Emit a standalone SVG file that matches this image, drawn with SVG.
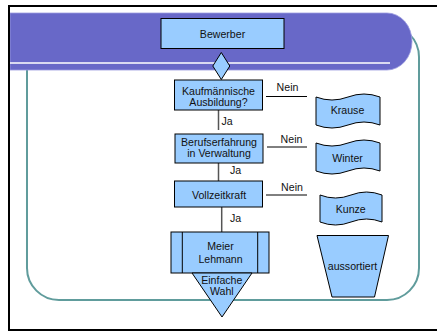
<svg xmlns="http://www.w3.org/2000/svg" width="437" height="332" viewBox="0 0 437 332">
<style>
.box{fill:#99CCFF;stroke:#000;stroke-width:1}
.t{font-family:"Liberation Sans",Arial,sans-serif;font-size:10.6px;fill:#111;text-anchor:middle}
.nein{stroke:#000;stroke-width:1;fill:none}
.vert{stroke:#555;stroke-width:1.5;fill:none}
</style>
<rect x="0" y="0" width="437" height="332" fill="#fff"/>
<g id="frame">
<rect x="27" y="25" width="392" height="275" rx="32" ry="32" fill="none" stroke="#609C9C" stroke-width="2"/>
<path d="M10,13 H387 A25,28.5 0 0 1 412,41.5 A25,28.5 0 0 1 387,70 H10 Z" fill="#6868C8" stroke="#9C9CE0" stroke-width="0.8"/>
<line x1="10" y1="63" x2="390" y2="63" stroke="#fff" stroke-width="1.5"/>
<rect x="9" y="6" width="440" height="324" fill="none" stroke="#000" stroke-width="2"/>
</g>
<g id="connectors">
<line class="vert" x1="218.5" y1="110" x2="218.5" y2="130"/>
<line class="vert" x1="218.5" y1="163" x2="218.5" y2="181"/>
<line class="vert" x1="221.7" y1="207" x2="221.7" y2="232"/>
<line class="nein" x1="266" y1="96.5" x2="307" y2="96.5"/>
<line class="nein" x1="267" y1="147" x2="307" y2="147"/>
<line class="nein" x1="266" y1="195" x2="307" y2="195"/>
<text class="t" x="287.5" y="91">Nein</text>
<text class="t" x="227" y="125">Ja</text>
<text class="t" x="291.5" y="143">Nein</text>
<text class="t" x="235.5" y="173.5">Ja</text>
<text class="t" x="292" y="190.5">Nein</text>
<text class="t" x="235.5" y="222">Ja</text>
</g>
<g id="bewerber">
<rect class="box" x="161" y="18.5" width="123" height="30"/>
<text class="t" x="222.5" y="38">Bewerber</text>
</g>
<g id="gate">
<polygon class="box" points="221.3,52.5 229.8,66 221.3,79.5 212.8,66"/>
</g>
<g id="kaufmaennisch">
<rect class="box" x="174.5" y="80" width="88" height="30"/>
<text class="t" x="218.5" y="94.5">Kaufmännische</text>
<text class="t" x="218.5" y="105.5">Ausbildung?</text>
</g>
<g id="berufserfahrung">
<rect class="box" x="175" y="134" width="88" height="29"/>
<text class="t" x="219" y="146">Berufserfahrung</text>
<text class="t" x="219" y="157">in Verwaltung</text>
</g>
<g id="vollzeitkraft">
<rect class="box" x="174.5" y="181" width="88" height="26"/>
<text class="t" x="219" y="198.5">Vollzeitkraft</text>
</g>
<g id="meier-lehmann">
<rect class="box" x="171" y="232" width="98" height="41"/>
<line x1="182.3" y1="232" x2="182.3" y2="273" stroke="#000" stroke-width="1"/>
<line x1="257.7" y1="232" x2="257.7" y2="273" stroke="#000" stroke-width="1"/>
<text class="t" x="220.5" y="250">Meier</text>
<text class="t" x="220.5" y="262.5">Lehmann</text>
</g>
<g id="einfache-wahl">
<polygon class="box" points="192,273 252,273 222,317"/>
<text class="t" x="221.8" y="283.5">Einfache</text>
<text class="t" x="221.8" y="294.5">Wahl</text>
</g>
<g id="krause">
<path class="box" d="M316,97 Q332,103 348,97 T380,97 L380,125 Q364,119 348,125 T316,125 Z"/>
<text class="t" x="347.5" y="114">Krause</text>
</g>
<g id="winter">
<path class="box" d="M316,143 Q332,149 348,143 T380,143 L380,171 Q364,165 348,171 T316,171 Z"/>
<text class="t" x="347.5" y="162">Winter</text>
</g>
<g id="kunze">
<path class="box" d="M320,195 Q335.5,201 351,195 T382,195 L382,222 Q366.5,216 351,222 T320,222 Z"/>
<text class="t" x="350.7" y="213">Kunze</text>
</g>
<g id="aussortiert">
<polygon class="box" points="317,235.5 388.5,235.5 374.5,297 332,297"/>
<text class="t" x="352.5" y="270">aussortiert</text>
</g>
</svg>
